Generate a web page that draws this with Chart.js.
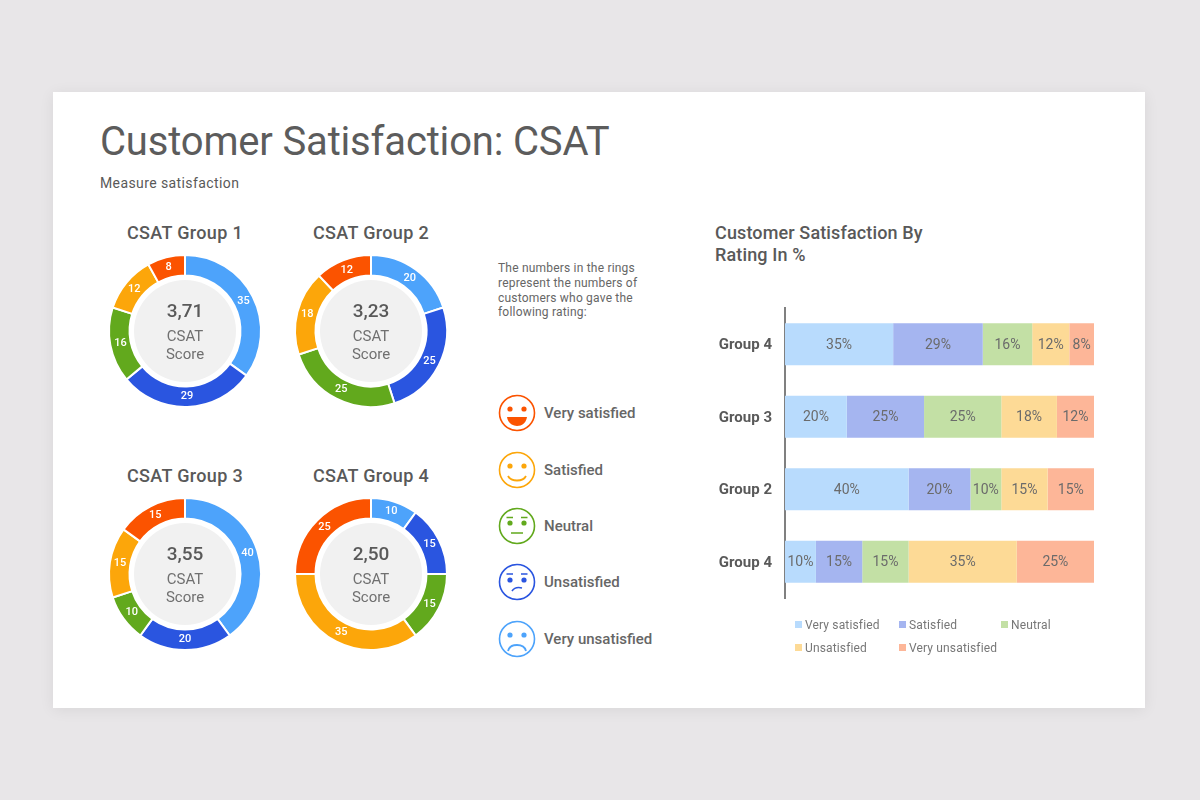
<!DOCTYPE html>
<html>
<head>
<meta charset="utf-8">
<title>Customer Satisfaction: CSAT</title>
<script src="https://cdn.jsdelivr.net/npm/chart.js@4"></script>
<style>
  html, body { margin: 0; padding: 0; width: 1200px; height: 800px; overflow: hidden; background: #e8e6e8; font-family: Roboto, sans-serif; }
  .card { position: absolute; left: 53px; top: 92px; width: 1092px; height: 616px; background: #fff; box-shadow: 0 2px 14px rgba(0,0,0,0.07); }
  .txt { position: absolute; white-space: nowrap; color: #595959; }
  .title { left: 100px; top: 118px; font-size: 40px; line-height: 48px; font-weight: 400; color: #5c5c5c; letter-spacing: -0.17px; }
  .sub { left: 100px; top: 174px; font-size: 14px; line-height: 18px; letter-spacing: 0.4px; }
  .ring-title { width: 186px; text-align: center; font-size: 18px; line-height: 22px; font-weight: 500; letter-spacing: 0.35px; }
  .note { left: 498px; top: 261px; font-size: 12px; line-height: 14.8px; color: #666; letter-spacing: 0.2px; }
  .bar-title { left: 715px; top: 222px; font-size: 18px; line-height: 22px; font-weight: 500; letter-spacing: 0.13px; }
  .face-label { left: 544px; font-size: 15px; line-height: 18px; font-weight: 500; color: #666; }
  canvas { position: absolute; }
  .face { position: absolute; left: 498px; width: 38px; height: 38px; }
  .key { position: absolute; font-size: 12px; line-height: 14px; color: #777; white-space: nowrap; letter-spacing: 0.15px; }
  .key i { display: inline-block; width: 7px; height: 7px; margin-right: 3px; vertical-align: 1px; }
</style>
</head>
<body>
<div class="card"></div>
<div class="txt title">Customer Satisfaction: CSAT</div>
<div class="txt sub">Measure satisfaction</div>
<div class="txt note">The numbers in the rings<br>represent the numbers of<br>customers who gave the<br>following rating:</div>
<div class="txt bar-title">Customer Satisfaction By<br>Rating In %</div>

<canvas id="ring1" width="170" height="170" style="left:100px;top:246px"></canvas>
<canvas id="ring2" width="170" height="170" style="left:286px;top:246px"></canvas>
<canvas id="ring3" width="170" height="170" style="left:100px;top:489px"></canvas>
<canvas id="ring4" width="170" height="170" style="left:286px;top:489px"></canvas>
<canvas id="bars" width="394" height="334" style="left:700px;top:286px"></canvas>

<svg class="face" style="top:394px" viewBox="0 0 38 38">
  <circle cx="19" cy="19" r="17.5" fill="none" stroke="#fb5300" stroke-width="1.6"/>
  <circle cx="12" cy="15" r="2.6" fill="#fb5300"/><circle cx="26" cy="15" r="2.6" fill="#fb5300"/>
  <path d="M9 23 H29 C28 29 24 32 19 32 C14 32 10 29 9 23 Z" fill="#fb5300"/>
</svg>
<svg class="face" style="top:451px" viewBox="0 0 38 38">
  <circle cx="19" cy="19" r="17.5" fill="none" stroke="#fca60a" stroke-width="1.6"/>
  <circle cx="12" cy="15" r="2.6" fill="#fca60a"/><circle cx="26" cy="15" r="2.6" fill="#fca60a"/>
  <path d="M10 25 C13 31 25 31 28 25" fill="none" stroke="#fca60a" stroke-width="1.8"/>
</svg>
<svg class="face" style="top:507px" viewBox="0 0 38 38">
  <circle cx="19" cy="19" r="17.5" fill="none" stroke="#62a91d" stroke-width="1.6"/>
  <circle cx="12" cy="16" r="2.6" fill="#62a91d"/><circle cx="26" cy="16" r="2.6" fill="#62a91d"/>
  <path d="M8.5 10.5 H15 M23 10.5 H29.5 M13 26 H25" fill="none" stroke="#62a91d" stroke-width="1.6"/>
</svg>
<svg class="face" style="top:563px" viewBox="0 0 38 38">
  <circle cx="19" cy="19" r="17.5" fill="none" stroke="#2a55e0" stroke-width="1.6"/>
  <circle cx="12" cy="17" r="2.6" fill="#2a55e0"/><circle cx="26" cy="17" r="2.6" fill="#2a55e0"/>
  <path d="M8.5 11 H15 M23 11 H29.5 M14 28 C16 25 20 24 24 25" fill="none" stroke="#2a55e0" stroke-width="1.6"/>
</svg>
<svg class="face" style="top:620px" viewBox="0 0 38 38">
  <circle cx="19" cy="19" r="17.5" fill="none" stroke="#4da3fb" stroke-width="1.6"/>
  <circle cx="12" cy="15" r="2.6" fill="#4da3fb"/><circle cx="26" cy="15" r="2.6" fill="#4da3fb"/>
  <path d="M10 31 C12 23 26 23 28 31" fill="none" stroke="#4da3fb" stroke-width="1.8"/>
</svg>
<div class="txt face-label" style="top:404px">Very satisfied</div>
<div class="txt face-label" style="top:461px">Satisfied</div>
<div class="txt face-label" style="top:517px">Neutral</div>
<div class="txt face-label" style="top:573px">Unsatisfied</div>
<div class="txt face-label" style="top:630px">Very unsatisfied</div>

<script>
// data
const ratings = ['Very satisfied', 'Satisfied', 'Neutral', 'Unsatisfied', 'Very unsatisfied'];
const ringTitles = ['CSAT Group 1', 'CSAT Group 2', 'CSAT Group 3', 'CSAT Group 4'];
const ringScores = ['3,71', '3,23', '3,55', '2,50'];
const group1 = [35, 29, 16, 12, 8];
const group2 = [20, 25, 25, 18, 12];
const group3 = [40, 20, 10, 15, 15];
const group4 = [10, 15, 15, 35, 25];

const barGroups = ['Group 4', 'Group 3', 'Group 2', 'Group 4'];
const verySatisfied = [35, 20, 40, 10];
const satisfied = [29, 25, 20, 15];
const neutral = [16, 25, 10, 15];
const unsatisfied = [12, 18, 15, 35];
const veryUnsatisfied = [8, 12, 15, 25];

// colours
const ringColors = ['#4da3fb', '#2a55e0', '#62a91d', '#fca60a', '#fb5300'];
const barColors = ['#b8dbfd', '#a5b5f0', '#c3e0a5', '#fdda96', '#fdb698'];

const font = 'Roboto, sans-serif';

// grey disc, score and value labels of a ring
const ringPlugin = {
    id: 'ringText',
    beforeDatasetsDraw(chart, args, opts) {
        const { ctx } = chart;
        const arc = chart.getDatasetMeta(0).data[0];
        ctx.save();
        ctx.fillStyle = '#f1f1f1';
        ctx.beginPath();
        ctx.arc(arc.x, arc.y, 51, 0, Math.PI * 2);
        ctx.fill();
        ctx.textAlign = 'center';
        ctx.textBaseline = 'middle';
        ctx.fillStyle = '#595959';
        ctx.font = '500 19px ' + font;
        ctx.fillText(opts.score, arc.x, arc.y - 19);
        ctx.fillStyle = '#707070';
        ctx.font = '15px ' + font;
        ctx.fillText('CSAT', arc.x, arc.y + 6);
        ctx.fillText('Score', arc.x, arc.y + 24);
        ctx.restore();
    },
    afterDatasetsDraw(chart) {
        const { ctx } = chart;
        const meta = chart.getDatasetMeta(0);
        ctx.save();
        ctx.textAlign = 'center';
        ctx.textBaseline = 'middle';
        ctx.fillStyle = '#fff';
        ctx.font = '500 11px ' + font;
        meta.data.forEach((arc, i) => {
            const p = arc.getCenterPoint();
            ctx.fillText(chart.data.datasets[0].data[i], p.x, p.y);
        });
        ctx.restore();
    }
};

[group1, group2, group3, group4].forEach((values, i) => {
    new Chart(document.getElementById('ring' + (i + 1)), {
        type: 'doughnut',
        data: {
            labels: ratings,
            datasets: [{
                data: values,
                backgroundColor: ringColors,
                borderColor: '#fff',
                borderWidth: 2
            }]
        },
        options: {
            responsive: false,
            animation: false,
            devicePixelRatio: 1,
            radius: 76,
            cutout: '73%',
            plugins: {
                legend: { display: false },
                tooltip: { enabled: false },
                ringText: { score: ringScores[i] }
            }
        },
        plugins: [ringPlugin]
    });
});

// ring titles
const ringTitlePos = [[92, 222], [278, 222], [92, 465], [278, 465]];
ringTitles.forEach((t, i) => {
    const d = document.createElement('div');
    d.className = 'txt ring-title';
    d.style.left = ringTitlePos[i][0] + 'px';
    d.style.top = ringTitlePos[i][1] + 'px';
    d.textContent = t;
    document.body.appendChild(d);
});

// percent labels inside the bars
const barLabels = {
    id: 'barLabels',
    afterDatasetsDraw(chart) {
        const { ctx } = chart;
        ctx.save();
        ctx.textAlign = 'center';
        ctx.textBaseline = 'middle';
        ctx.fillStyle = '#6b6b6b';
        ctx.font = '14px ' + font;
        chart.data.datasets.forEach((ds, d) => {
            chart.getDatasetMeta(d).data.forEach((bar, i) => {
                const p = bar.getCenterPoint();
                ctx.fillText(ds.data[i] + '%', p.x, p.y + 1);
            });
        });
        ctx.restore();
    }
};

new Chart(document.getElementById('bars'), {
    type: 'bar',
    data: {
        labels: barGroups,
        datasets: [verySatisfied, satisfied, neutral, unsatisfied, veryUnsatisfied].map((values, i) => ({
            label: ratings[i],
            data: values,
            backgroundColor: barColors[i],
            barPercentage: 0.58,
            categoryPercentage: 1
        }))
    },
    options: {
        indexAxis: 'y',
        responsive: false,
        animation: false,
        devicePixelRatio: 1,
        plugins: {
            legend: { display: false },
            tooltip: { enabled: false }
        },
        scales: {
            x: { stacked: true, min: 0, max: 100, display: false },
            y: {
                stacked: true,
                afterFit(scale) { scale.width = 85; },
                grid: { display: false, drawTicks: false },
                border: { display: true, color: '#808080', width: 2 },
                ticks: {
                    color: '#595959',
                    padding: 13,
                    labelOffset: 1,
                    font: { family: font, size: 15, weight: '700' }
                }
            }
        }
    },
    plugins: [barLabels]
});

// legend under the bars
const keyPos = [[795, 618], [899, 618], [1001, 618], [795, 641], [899, 641]];
ratings.forEach((r, i) => {
    const d = document.createElement('div');
    d.className = 'key';
    d.style.left = keyPos[i][0] + 'px';
    d.style.top = keyPos[i][1] + 'px';
    d.innerHTML = '<i style="background:' + barColors[i] + '"></i>' + r;
    document.body.appendChild(d);
});
</script>
</body>
</html>
